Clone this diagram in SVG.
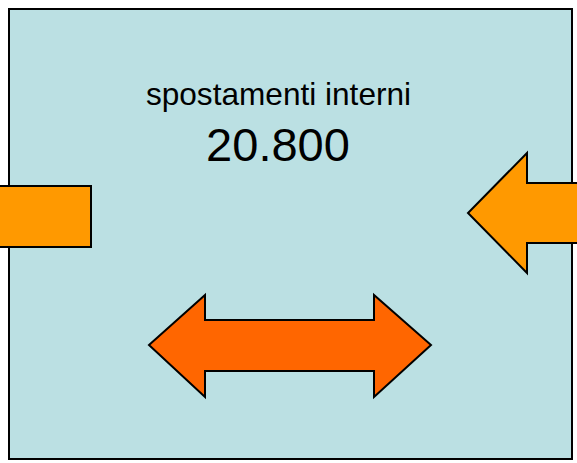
<svg xmlns="http://www.w3.org/2000/svg" width="577" height="463" viewBox="0 0 577 463">
<style>
.shape{stroke:#000;stroke-width:2;stroke-linejoin:miter}
.t{font-family:"Liberation Sans",Arial,sans-serif;fill:#000;text-anchor:middle}
</style>
<rect width="577" height="463" fill="#fff"/>
<g id="box">
<rect x="9" y="9" width="563" height="450" fill="#BBE0E3" stroke="#000" stroke-width="2"/>
<text class="t" x="278.5" y="105" font-size="31.6">spostamenti interni</text>
<text class="t" x="278" y="161" font-size="47">20.800</text>
</g>
<g id="connectors">
<g id="arrow-left-in"><rect class="shape" x="-2" y="186" width="93" height="61" fill="#FF9900"/></g>
<g id="arrow-right-in"><polygon class="shape" fill="#FF9900" points="580,183 527,183 527,153 468,213 527,273 527,243 580,243"/></g>
<g id="arrow-internal"><polygon class="shape" fill="#FF6600" points="149,345 205,295 205,320 374,320 374,295 431,345 374,397 374,371 205,371 205,397"/></g>
</g>
</svg>
